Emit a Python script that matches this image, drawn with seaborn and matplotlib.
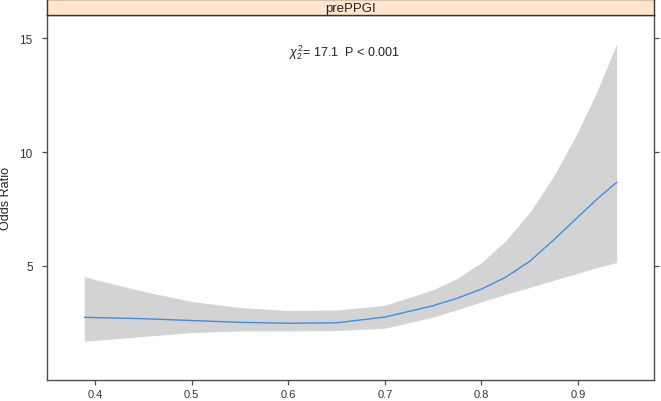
import numpy as np
import pandas as pd
import matplotlib
matplotlib.use('Agg')
import matplotlib.pyplot as plt
import seaborn as sns

# values
x_vals = [0.389, 0.45, 0.50, 0.55, 0.60, 0.65, 0.70, 0.75, 0.775, 0.80, 0.825, 0.85, 0.875, 0.90, 0.92, 0.94]
or_fit = [2.74, 2.68, 2.60, 2.52, 2.48, 2.50, 2.75, 3.25, 3.58, 3.98, 4.50, 5.20, 6.15, 7.15, 7.95, 8.67]
or_upper = [4.52, 3.88, 3.44, 3.17, 3.04, 3.06, 3.27, 3.95, 4.45, 5.15, 6.10, 7.35, 8.95, 10.90, 12.70, 14.75]
or_lower = [1.69, 1.90, 2.07, 2.14, 2.14, 2.16, 2.26, 2.75, 3.08, 3.42, 3.75, 4.05, 4.37, 4.68, 4.93, 5.15]
panel_title = 'prePPGI'
stat_text = r'$\chi^2_2$' + '= 17.1  P < 0.001'
x_ticks = [0.4, 0.5, 0.6, 0.7, 0.8, 0.9]
y_ticks = [5, 10, 15]

df = pd.DataFrame({'x': x_vals, 'fit': or_fit, 'lo': or_lower, 'hi': or_upper})

sns.set_style('white')
plt.rcParams['font.family'] = ['Liberation Sans', 'DejaVu Sans']
plt.rcParams['mathtext.fontset'] = 'custom'
plt.rcParams['mathtext.rm'] = 'Liberation Sans'
plt.rcParams['mathtext.it'] = 'Liberation Sans:italic'

axis_col = '#4d4d4d'
fig = plt.figure(figsize=(6.61, 4.02), dpi=100)
ax = fig.add_axes([0.0711, 0.053, 0.9183, 0.906])

ax.fill_between(df['x'], df['lo'], df['hi'], color='#d3d3d3', linewidth=0)
sns.lineplot(data=df, x='x', y='fit', ax=ax, color='#3d8ee8', linewidth=1.0)

ax.set_xlim(0.3504, 0.9786)
ax.set_ylim(0, 16)
ax.set_xticks(x_ticks)
ax.set_xticklabels([str(t) for t in x_ticks])
ax.set_yticks(y_ticks)
ax.set_xlabel('')
ax.set_ylabel('Odds Ratio', fontsize=9, color='#222222')
ax.yaxis.set_label_coords(-0.057, 0.5)
ax.tick_params(axis='both', direction='out', length=3.8, width=0.9, color=axis_col,
               labelsize=8.5, labelcolor='#333333')
ax.tick_params(axis='y', right=True, left=True, pad=6.5)
ax.tick_params(axis='x', bottom=True, pad=3, labelsize=8)
for s in ax.spines.values():
    s.set_color(axis_col)
    s.set_linewidth(1.0)

ax.text(0.6586, 14.4, stat_text, ha='center', va='center', fontsize=9, color='#222222')

# strip on top
strip = fig.add_axes([0.0711, 0.959, 0.9183, 0.041])
strip.set_facecolor('#ffe5cc')
strip.set_xticks([])
strip.set_yticks([])
for s in strip.spines.values():
    s.set_color('#333333')
    s.set_linewidth(1.0)
strip.text(0.5, 0.45, panel_title, ha='center', va='center', fontsize=9.5, color='#222222',
           transform=strip.transAxes)

fig.savefig('out.png', dpi=100)
